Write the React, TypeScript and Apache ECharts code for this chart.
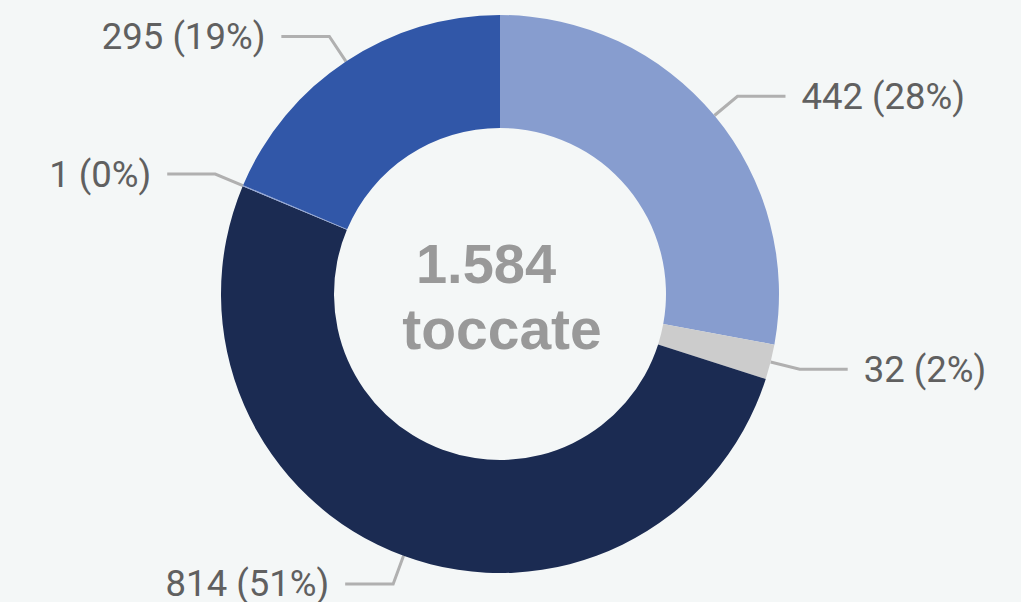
import React, { useEffect, useRef } from "react";
import * as echarts from "echarts";

const categories = ["A", "B", "C", "D", "E"];
const values = [442, 32, 814, 1, 295];
const colors = ["#879dcf", "#cccccc", "#1b2b52", "#8ea2d6", "#3157a8"];
const totalLabel = "1.584";
const unitLabel = "toccate";

export default function App() {
  const ref = useRef<HTMLDivElement>(null);
  useEffect(() => {
    if (!ref.current) return;
    const chart = echarts.init(ref.current, null, { renderer: "svg" });
    const total = values.reduce((a, b) => a + b, 0);
    chart.setOption({
      animation: false,
      backgroundColor: "#f4f7f7",
      graphic: [
        {
          type: "text",
          x: 486,
          y: 263,
          style: {
            text: totalLabel,
            font: "bold 56px 'Liberation Sans', Arial, sans-serif",
            fill: "#999999",
            textAlign: "center",
            textVerticalAlign: "middle",
          },
        },
        {
          type: "text",
          x: 502,
          y: 329,
          style: {
            text: unitLabel,
            font: "bold 57px 'Liberation Sans', Arial, sans-serif",
            fill: "#999999",
            textAlign: "center",
            textVerticalAlign: "middle",
          },
        },
      ],
      series: [
        {
          type: "pie",
          center: [500, 294],
          radius: [166, 279],
          startAngle: 90,
          clockwise: true,
          avoidLabelOverlap: false,
          silent: true,
          data: values.map((v, i) => ({
            name: categories[i],
            value: v,
            itemStyle: { color: colors[i] },
          })),
          label: {
            show: true,
            position: "outside",
            formatter: (p: any) => `${p.value} (${Math.round((p.value / total) * 100)}%)`,
            fontFamily: "Roboto, sans-serif",
            fontSize: 36.5,
            color: "#606060",
            distanceToLabelLine: 16,
          },
          labelLine: {
            show: true,
            length: 30,
            length2: 48,
            lineStyle: { color: "#b0b0b0", width: 3 },
          },
        },
      ],
    });
    return () => chart.dispose();
  }, []);
  return (
    <div
      ref={ref}
      style={{ position: "fixed", left: 0, top: 0, width: 1021, height: 602 }}
    />
  );
}
